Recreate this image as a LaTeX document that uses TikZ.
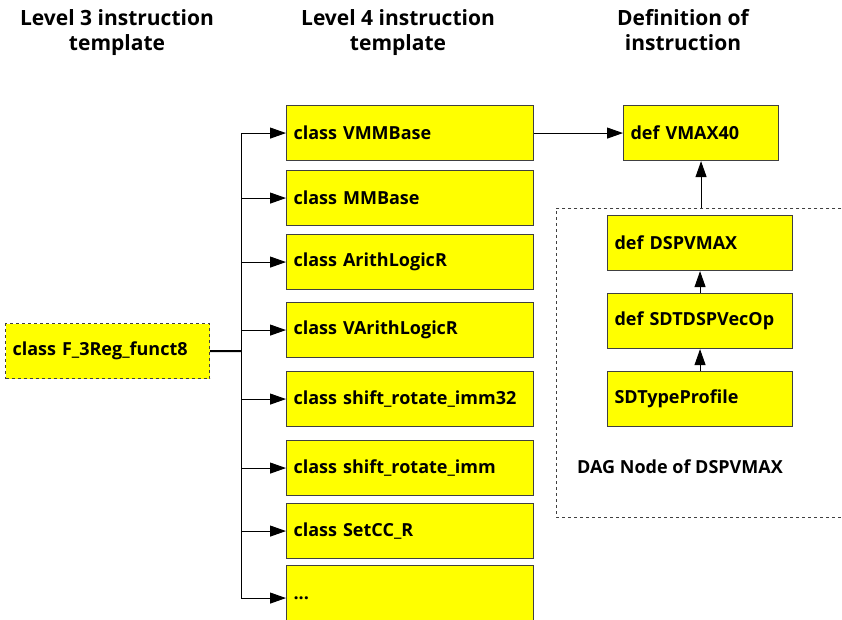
\documentclass[tikz,border=0pt]{standalone}
\usepackage{fontspec}
\setmainfont{Open Sans}
\usetikzlibrary{arrows.meta}

\definecolor{boxfill}{RGB}{255,255,0}
\definecolor{boxline}{RGB}{64,64,64}

\tikzset{
  ybox/.style={draw=boxline, line width=1.1pt, fill=boxfill, anchor=north west,
    inner xsep=7pt, inner ysep=0pt, align=left, font=\bfseries\fontsize{18}{21}\selectfont},
  midbox/.style={ybox, text width=233pt, minimum height=55pt},
  defbox/.style={ybox, text width=141pt, minimum height=55pt},
  dagbox/.style={ybox, text width=171pt, minimum height=55pt},
  header/.style={align=center, anchor=base, font=\bfseries\fontsize{21}{25}\selectfont},
  link/.style={line width=1pt, -{Triangle[length=16pt,width=11pt]}},
}

\begin{document}
\begin{tikzpicture}[x=1pt, y=-1pt]
  \useasboundingbox (0,0) rectangle (842,619);
  \clip (0,0) rectangle (842,619);

  % column headings (anchored on the baseline of their last line)
  \node[header] (h3) at (117,50) {Level 3 instruction\\template};
  \node[header] (h4) at (398,50) {Level 4 instruction\\template};
  \node[header] (hd) at (683,50) {Definition of\\instruction};

  % level 3 template
  \node[ybox, dashed, text width=190pt, minimum height=55pt] (f3) at (5,323) {class F\_3Reg\_funct8};

  % level 4 templates
  \node[midbox] (m1) at (286,105) {class VMMBase};
  \node[midbox] (m2) at (286,170) {class MMBase};
  \node[midbox] (m3) at (286,234) {class ArithLogicR};
  \node[midbox] (m4) at (286,302) {class VArithLogicR};
  \node[midbox] (m5) at (286,371) {class shift\_rotate\_imm32};
  \node[midbox] (m6) at (286,440) {class shift\_rotate\_imm};
  \node[midbox] (m7) at (286,503) {class SetCC\_R};
  \node[midbox, minimum height=65pt] (m8) at (286,565) {...};

  % fan-out from the level 3 template
  \coordinate (trunk) at (241,351);
  \draw[line width=2pt] (f3.east) -- (trunk);
  \draw[line width=1pt] (trunk |- m1.west) -- (trunk |- m8.west);
  \foreach \m in {m1,m2,m3,m4,m5,m6,m7,m8}
    \draw[link] (trunk |- \m.west) -- (\m.west);

  % instruction definition
  \node[defbox] (vmax) at (623,105) {def VMAX40};
  \draw[link] (m1.east) -- (vmax.west);

  % DAG node group
  \node[draw=black!75, dashed, line width=0.8pt, anchor=north west,
        minimum width=300pt, minimum height=309pt, inner sep=0pt] (dag) at (556,208) {};
  \node[dagbox] (d1) at (607,215) {def DSPVMAX};
  \node[dagbox] (d2) at (607,293) {def SDTDSPVecOp};
  \node[dagbox] (d3) at (607,371) {SDTypeProfile};
  \node[anchor=west, font=\bfseries\fontsize{18}{21}\selectfont, inner sep=0pt] (dagl) at (577,467) {DAG Node of DSPVMAX};

  \draw[link] (dag.north -| vmax.south) -- (vmax.south);
  \draw[link] (d2.north) -- (d1.south);
  \draw[link] (d3.north) -- (d2.south);
\end{tikzpicture}
\end{document}
